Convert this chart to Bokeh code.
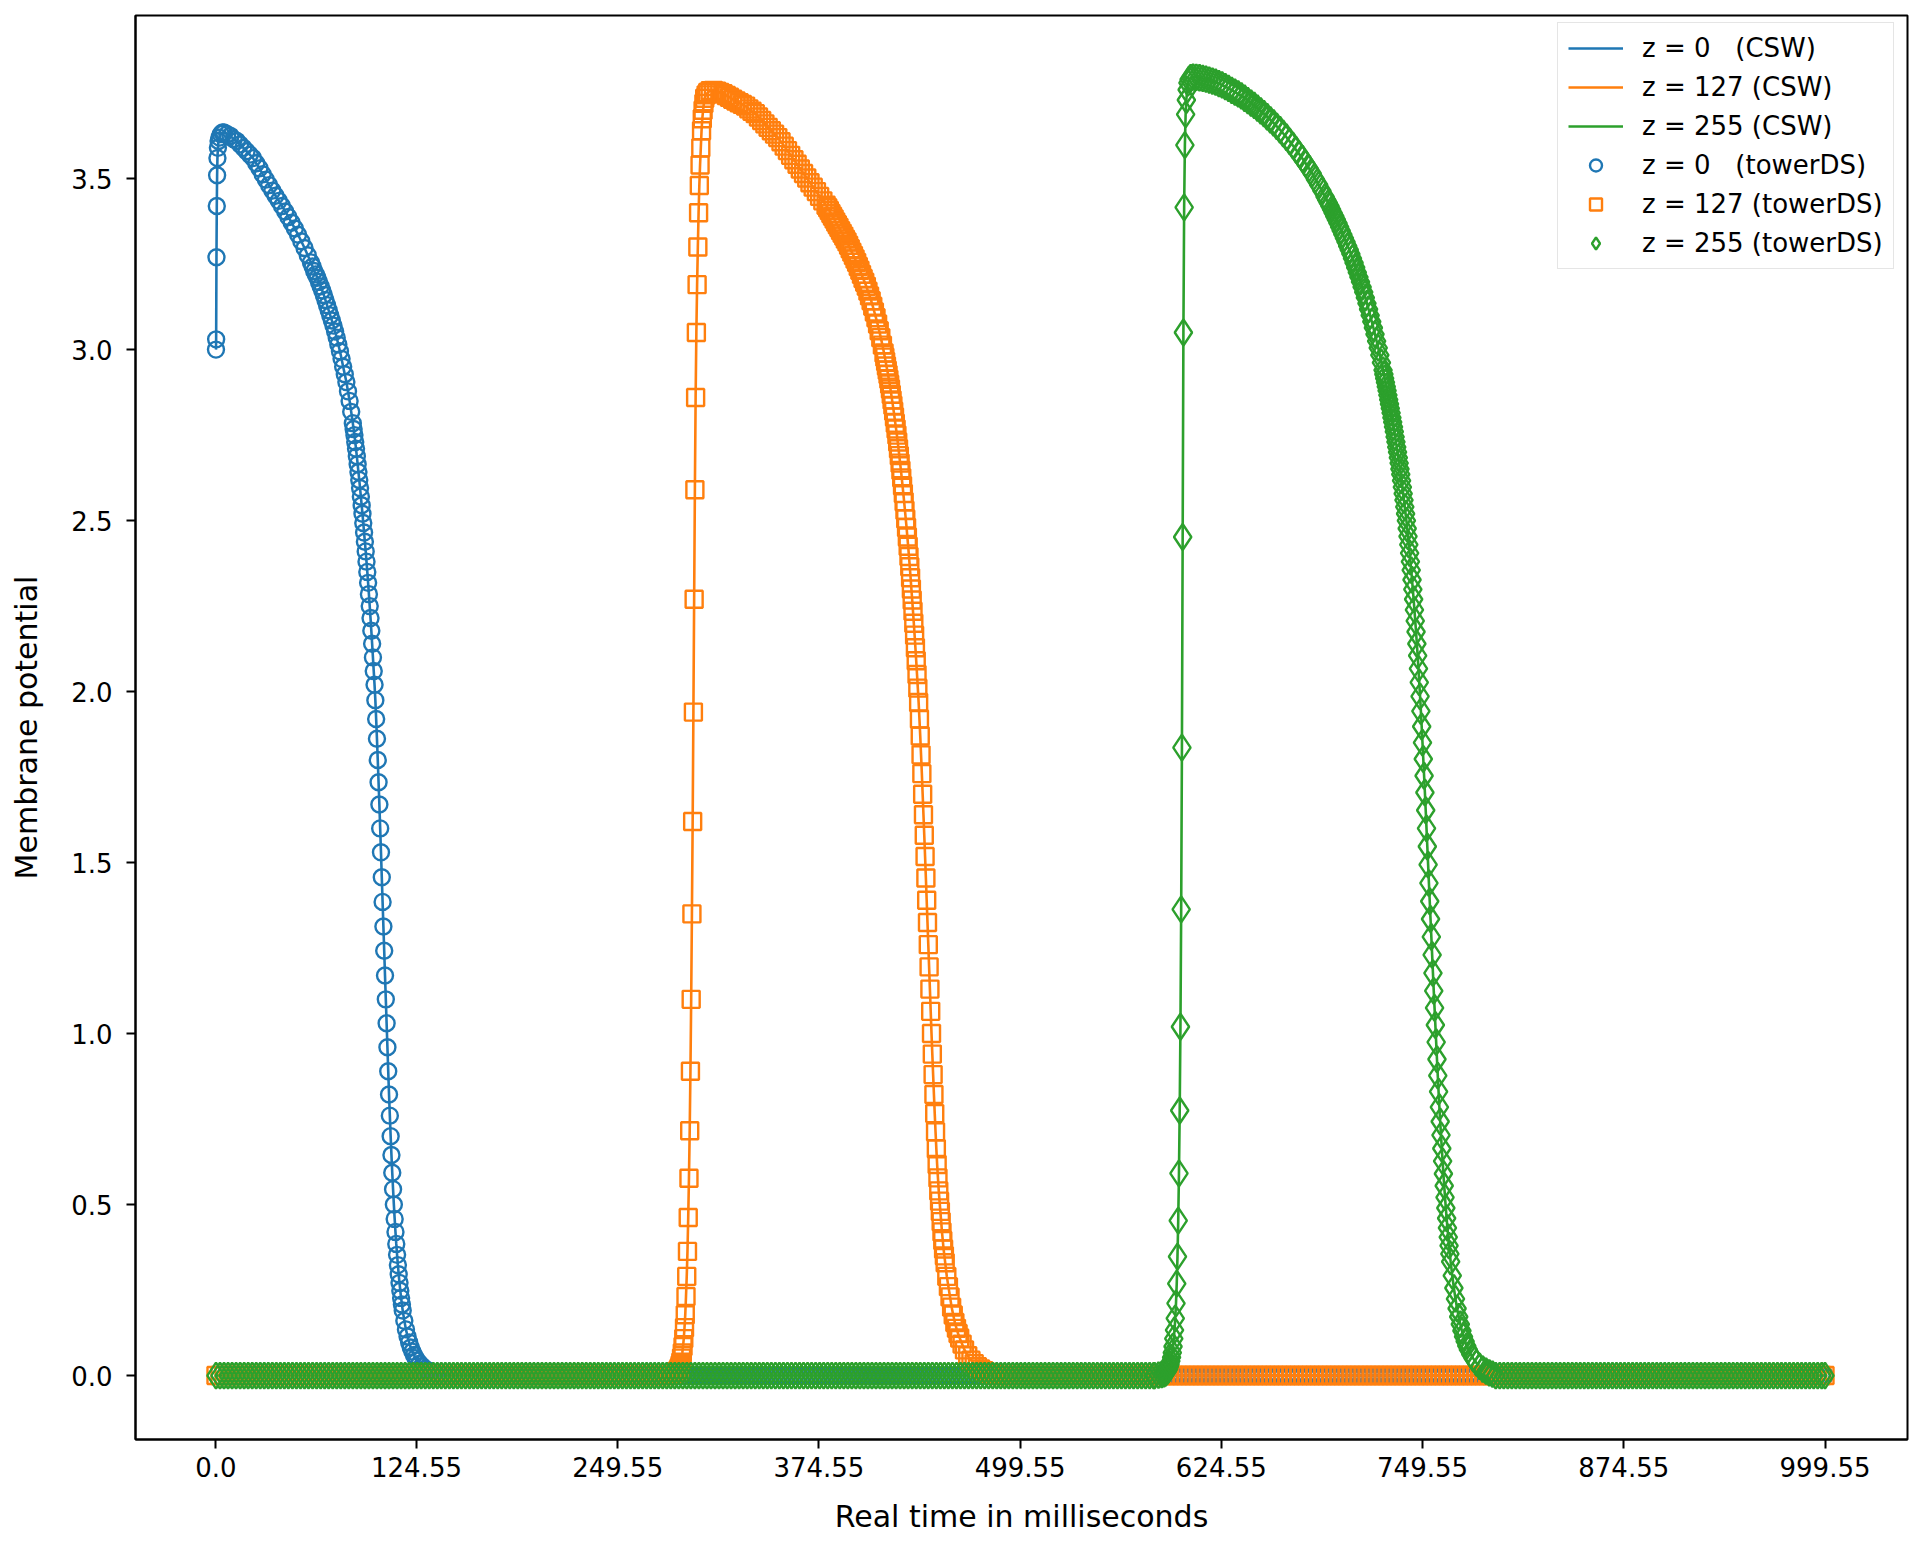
from bokeh.plotting import figure
from bokeh.models import Range1d, FixedTicker, Legend, LegendItem
from bokeh.embed import file_html
from bokeh.resources import INLINE

# ---------------- data ----------------
x_ticks = [0.0, 124.55, 249.55, 374.55, 499.55, 624.55, 749.55, 874.55, 999.55]
x_tick_labels = ["0.0", "124.55", "249.55", "374.55", "499.55", "624.55", "749.55", "874.55", "999.55"]
y_ticks = [0.0, 0.5, 1.0, 1.5, 2.0, 2.5, 3.0, 3.5]
y_tick_labels = ["0.0", "0.5", "1.0", "1.5", "2.0", "2.5", "3.0", "3.5"]

series_names = ["z = 0   (CSW)", "z = 127 (CSW)", "z = 255 (CSW)",
                "z = 0   (towerDS)", "z = 127 (towerDS)", "z = 255 (towerDS)"]
colors = ["#1f77b4", "#ff7f0e", "#2ca02c"]

# resting level (membrane potential 0.0) read at these sample times outside each pulse
REST_LEVEL = 0.0
rest_grid_ms = [
    0, 2.5, 5, 7.5, 10, 12.5, 15, 17.5, 20, 22.5, 25, 27.5, 30, 32.5, 35, 37.5, 40, 42.5, 45, 47.5,
    50, 52.5, 55, 57.5, 60, 62.5, 65, 67.5, 70, 72.5, 75, 77.5, 80, 82.5, 85, 87.5, 90, 92.5, 95, 97.5,
    100, 102.5, 105, 107.5, 110, 112.5, 115, 117.5, 120, 122.5, 125, 127.5, 130, 132.5, 135, 137.5, 140, 142.5, 145, 147.5,
    150, 152.5, 155, 157.5, 160, 162.5, 165, 167.5, 170, 172.5, 175, 177.5, 180, 182.5, 185, 187.5, 190, 192.5, 195, 197.5,
    200, 202.5, 205, 207.5, 210, 212.5, 215, 217.5, 220, 222.5, 225, 227.5, 230, 232.5, 235, 237.5, 240, 242.5, 245, 247.5,
    250, 252.5, 255, 257.5, 260, 262.5, 265, 267.5, 270, 272.5, 275, 277.5, 280, 282.5, 285, 287.5, 290, 292.5, 295, 297.5,
    300, 302.5, 305, 307.5, 310, 312.5, 315, 317.5, 320, 322.5, 325, 327.5, 330, 332.5, 335, 337.5, 340, 342.5, 345, 347.5,
    350, 352.5, 355, 357.5, 360, 362.5, 365, 367.5, 370, 372.5, 375, 377.5, 380, 382.5, 385, 387.5, 390, 392.5, 395, 397.5,
    400, 402.5, 405, 407.5, 410, 412.5, 415, 417.5, 420, 422.5, 425, 427.5, 430, 432.5, 435, 437.5, 440, 442.5, 445, 447.5,
    450, 452.5, 455, 457.5, 460, 462.5, 465, 467.5, 470, 472.5, 475, 477.5, 480, 482.5, 485, 487.5, 490, 492.5, 495, 497.5,
    500, 502.5, 505, 507.5, 510, 512.5, 515, 517.5, 520, 522.5, 525, 527.5, 530, 532.5, 535, 537.5, 540, 542.5, 545, 547.5,
    550, 552.5, 555, 557.5, 560, 562.5, 565, 567.5, 570, 572.5, 575, 577.5, 580, 582.5, 585, 587.5, 590, 592.5, 595, 597.5,
    600, 602.5, 605, 607.5, 610, 612.5, 615, 617.5, 620, 622.5, 625, 627.5, 630, 632.5, 635, 637.5, 640, 642.5, 645, 647.5,
    650, 652.5, 655, 657.5, 660, 662.5, 665, 667.5, 670, 672.5, 675, 677.5, 680, 682.5, 685, 687.5, 690, 692.5, 695, 697.5,
    700, 702.5, 705, 707.5, 710, 712.5, 715, 717.5, 720, 722.5, 725, 727.5, 730, 732.5, 735, 737.5, 740, 742.5, 745, 747.5,
    750, 752.5, 755, 757.5, 760, 762.5, 765, 767.5, 770, 772.5, 775, 777.5, 780, 782.5, 785, 787.5, 790, 792.5, 795, 797.5,
    800, 802.5, 805, 807.5, 810, 812.5, 815, 817.5, 820, 822.5, 825, 827.5, 830, 832.5, 835, 837.5, 840, 842.5, 845, 847.5,
    850, 852.5, 855, 857.5, 860, 862.5, 865, 867.5, 870, 872.5, 875, 877.5, 880, 882.5, 885, 887.5, 890, 892.5, 895, 897.5,
    900, 902.5, 905, 907.5, 910, 912.5, 915, 917.5, 920, 922.5, 925, 927.5, 930, 932.5, 935, 937.5, 940, 942.5, 945, 947.5,
    950, 952.5, 955, 957.5, 960, 962.5, 965, 967.5, 970, 972.5, 975, 977.5, 980, 982.5, 985, 987.5, 990, 992.5, 995, 997.5,
    999.55,
]

# z = 0 pulse: (time in ms, membrane potential)
blue_pulse = [
    (0.0, 3.00), (0.1, 3.03), (0.3, 3.27), (0.5, 3.42), (0.7, 3.51), (0.9, 3.56), (1.2, 3.59), (1.6, 3.61),
    (2.2, 3.62), (3.0, 3.63), (4.0, 3.635), (5, 3.635), (7, 3.63), (9, 3.625), (11, 3.615), (13, 3.61),
    (15, 3.60), (17, 3.59), (19, 3.58), (21, 3.57), (23, 3.56), (25, 3.545), (27, 3.53), (29, 3.513),
    (31, 3.497), (33, 3.481), (35, 3.465), (37, 3.45), (39, 3.435), (41, 3.42), (43, 3.404), (45, 3.388),
    (47, 3.371), (49, 3.354), (51, 3.336), (53, 3.317), (55, 3.297), (57, 3.276), (59, 3.255), (60, 3.243),
    (61, 3.23), (62, 3.22), (63, 3.21), (64, 3.198), (65, 3.185), (66, 3.173), (67, 3.16), (68, 3.145),
    (69, 3.13), (70, 3.115), (71, 3.10), (72, 3.085), (73, 3.07), (74, 3.053), (75, 3.035), (76, 3.015),
    (77, 2.995), (78, 2.973), (79, 2.95), (80, 2.928), (81, 2.905), (82, 2.878), (83, 2.85), (84, 2.818),
    (85, 2.785), (85.5, 2.768), (86, 2.75), (86.5, 2.73), (87, 2.71), (87.5, 2.688), (88, 2.665), (88.5, 2.642),
    (89, 2.619), (89.5, 2.595), (90, 2.57), (90.5, 2.545), (91, 2.52), (91.5, 2.493), (92, 2.465), (92.5, 2.438),
    (93, 2.41), (93.5, 2.38), (94, 2.35), (94.5, 2.318), (95, 2.285), (95.5, 2.25), (96, 2.215), (96.5, 2.178),
    (97, 2.14), (97.5, 2.10), (98, 2.06), (98.5, 2.02), (99, 1.975), (99.5, 1.92), (100, 1.862), (100.5, 1.80),
    (101, 1.735), (101.5, 1.67), (102, 1.60), (102.5, 1.53), (103, 1.457), (103.5, 1.385), (104, 1.313), (104.5, 1.242),
    (105, 1.17), (105.5, 1.10), (106, 1.03), (106.5, 0.96), (107, 0.89), (107.5, 0.822), (108, 0.76), (108.5, 0.70),
    (109, 0.645), (109.5, 0.593), (110, 0.545), (110.5, 0.50), (111, 0.458), (111.5, 0.42), (112, 0.385), (112.5, 0.353),
    (113, 0.323), (113.5, 0.296), (114, 0.271), (114.5, 0.248), (115, 0.227), (115.5, 0.208), (116, 0.19), (117, 0.16),
    (118, 0.135), (119, 0.114), (120, 0.097), (121, 0.082), (122, 0.07), (123, 0.06), (124, 0.051), (125, 0.044),
    (126.5, 0.035), (128, 0.028), (130, 0.02), (132, 0.014), (134, 0.01), (136, 0.006), (138, 0.003), (140, 0.0),
]

# z = 127 pulse
orange_pulse = [
    (281, 0.0), (283, 0.002), (284.5, 0.004), (285.5, 0.007), (286.4, 0.011), (286.9, 0.014), (287.38, 0.018),
    (287.84, 0.023), (288.3, 0.03), (288.76, 0.039), (289.22, 0.051), (289.68, 0.066), (290.14, 0.085),
    (290.6, 0.108), (291.06, 0.14), (291.52, 0.178), (291.98, 0.231), (292.44, 0.29), (292.9, 0.363),
    (293.36, 0.462), (293.82, 0.577), (294.28, 0.716), (294.74, 0.89), (295.2, 1.10), (295.66, 1.35),
    (296.12, 1.62), (296.58, 1.94), (297.04, 2.27), (297.5, 2.59), (297.96, 2.86), (298.42, 3.05),
    (298.88, 3.19), (299.34, 3.30), (299.8, 3.40), (300.26, 3.48), (300.72, 3.54), (301.18, 3.59),
    (301.64, 3.64), (302.1, 3.675), (302.6, 3.70), (303.1, 3.72), (303.6, 3.735), (304.5, 3.745),
    (305.5, 3.752), (307, 3.757),
    (309, 3.758), (311, 3.756), (313, 3.752), (315, 3.748), (317, 3.743), (319, 3.738), (321, 3.732), (323, 3.727),
    (325, 3.722), (327, 3.717), (329, 3.712), (331, 3.704), (333, 3.697), (335, 3.69), (337, 3.68), (339, 3.67),
    (341, 3.66), (343, 3.65), (345, 3.64), (347, 3.63), (349, 3.62), (351, 3.608), (353, 3.595), (355, 3.582),
    (357, 3.568), (359, 3.555), (361, 3.542), (363, 3.528), (365, 3.515), (367, 3.502), (369, 3.488), (371, 3.475),
    (373, 3.462), (375, 3.448), (377, 3.435), (379, 3.422),
    (380, 3.415), (381, 3.407), (382, 3.398), (383, 3.39), (384, 3.382), (385, 3.373), (386, 3.365), (387, 3.357),
    (388, 3.348), (389, 3.34), (390, 3.332), (391, 3.323), (392, 3.315), (393, 3.305), (394, 3.295), (395, 3.285),
    (396, 3.275), (397, 3.265), (398, 3.255), (399, 3.243), (400, 3.232), (401, 3.22), (402, 3.208), (403, 3.197),
    (404, 3.185), (405, 3.171), (406, 3.157), (407, 3.143), (408, 3.127), (409, 3.11), (410, 3.093), (411, 3.075),
    (412, 3.055), (413, 3.035), (414, 3.013), (415, 2.99),
    (415.5, 2.978), (416, 2.965), (416.5, 2.952), (417, 2.94), (417.5, 2.927), (418, 2.913), (418.5, 2.899), (419, 2.885),
    (419.5, 2.869), (420, 2.853), (420.5, 2.837), (421, 2.82), (421.5, 2.803), (422, 2.785), (422.5, 2.768), (423, 2.75),
    (423.5, 2.73), (424, 2.71), (424.5, 2.69), (425, 2.668), (425.5, 2.647), (426, 2.625), (426.5, 2.602), (427, 2.579),
    (427.5, 2.555), (428, 2.53), (428.5, 2.505), (429, 2.48), (429.5, 2.452), (430, 2.425), (430.5, 2.395), (431, 2.365),
    (431.5, 2.333), (432, 2.30), (432.5, 2.268), (433, 2.235), (433.5, 2.20), (434, 2.165), (434.5, 2.128), (435, 2.09),
    (435.5, 2.05), (436, 2.01), (436.5, 1.968), (437, 1.92), (437.5, 1.87), (438, 1.815), (438.5, 1.76), (439, 1.70),
    (439.5, 1.64), (440, 1.58), (440.5, 1.518), (441, 1.455), (441.5, 1.39), (442, 1.325), (442.5, 1.26), (443, 1.195),
    (443.5, 1.13), (444, 1.065), (444.5, 1.0), (445, 0.94), (445.5, 0.88), (446, 0.822), (446.5, 0.766), (447, 0.713),
    (447.5, 0.663), (448, 0.617), (448.5, 0.578), (449, 0.54), (449.5, 0.51), (450, 0.48), (450.5, 0.45), (451, 0.42),
    (451.5, 0.395), (452, 0.37), (452.5, 0.35), (453, 0.33), (454, 0.29), (455, 0.26), (456, 0.23), (457, 0.20),
    (458, 0.177), (459, 0.155), (460, 0.138), (461, 0.123), (462, 0.11), (463.5, 0.092), (465, 0.075), (467, 0.058),
    (469, 0.045), (471, 0.035), (473, 0.026), (475, 0.019), (477, 0.014), (479, 0.009), (481, 0.006), (483, 0.003),
    (485, 0.0),
]

# z = 255 pulse
green_pulse = [
    (583, 0.0), (585.5, 0.001), (587.5, 0.003), (589, 0.005), (590, 0.008), (590.8, 0.012), (591.3, 0.016),
    (591.78, 0.02), (592.24, 0.026), (592.7, 0.033), (593.16, 0.042), (593.62, 0.053), (594.08, 0.067),
    (594.54, 0.085), (595.0, 0.108), (595.46, 0.133), (595.92, 0.167), (596.38, 0.211), (596.84, 0.269),
    (597.3, 0.348), (597.76, 0.453), (598.22, 0.591), (598.68, 0.775), (599.14, 1.020), (599.6, 1.363),
    (600.06, 1.836), (600.52, 2.452), (600.98, 3.050), (601.44, 3.416), (601.9, 3.598), (602.36, 3.688),
    (602.82, 3.73), (603.3, 3.76), (603.8, 3.78), (604.5, 3.79), (605.5, 3.795), (607, 3.797),
    (609, 3.796), (611, 3.795), (613, 3.793), (615, 3.791), (617, 3.788), (619, 3.785), (621, 3.782), (623, 3.778),
    (625, 3.774), (627, 3.769), (629, 3.764), (631, 3.758), (633, 3.753), (635, 3.748), (637, 3.742), (639, 3.735),
    (641, 3.728), (643, 3.721), (645, 3.714), (647, 3.706), (649, 3.698), (651, 3.69), (653, 3.681), (655, 3.672),
    (657, 3.663), (659, 3.653), (661, 3.643), (663, 3.632), (665, 3.621), (667, 3.609), (669, 3.597), (671, 3.584),
    (673, 3.571), (675, 3.558), (677, 3.544), (679, 3.53), (681, 3.515), (683, 3.498), (685, 3.482), (687, 3.465),
    (689, 3.447),
    (690, 3.438), (691, 3.429), (692, 3.42), (693, 3.41), (694, 3.40), (695, 3.39), (696, 3.38), (697, 3.37),
    (698, 3.359), (699, 3.348), (700, 3.337), (701, 3.326), (702, 3.315), (703, 3.303), (704, 3.292), (705, 3.28),
    (706, 3.267), (707, 3.254), (708, 3.24), (709, 3.226), (710, 3.212), (711, 3.198), (712, 3.183), (713, 3.168),
    (714, 3.152), (715, 3.135), (716, 3.118), (717, 3.10), (718, 3.082), (719, 3.064), (720, 3.045), (721, 3.025),
    (722, 3.005), (723, 2.984), (724, 2.962), (725, 2.94),
    (725.5, 2.928), (726, 2.916), (726.5, 2.904), (727, 2.892), (727.5, 2.88), (728, 2.867), (728.5, 2.854), (729, 2.841),
    (729.5, 2.828), (730, 2.815), (730.5, 2.801), (731, 2.788), (731.5, 2.774), (732, 2.76), (732.5, 2.745), (733, 2.73),
    (733.5, 2.715), (734, 2.70), (734.5, 2.684), (735, 2.668), (735.5, 2.651), (736, 2.635), (736.5, 2.617), (737, 2.598),
    (737.5, 2.579), (738, 2.56), (738.5, 2.54), (739, 2.52), (739.5, 2.50), (740, 2.477), (740.5, 2.454), (741, 2.43),
    (741.5, 2.405), (742, 2.38), (742.5, 2.355), (743, 2.327), (743.5, 2.299), (744, 2.27), (744.5, 2.239), (745, 2.207),
    (745.5, 2.175), (746, 2.14), (746.5, 2.105), (747, 2.067), (747.5, 2.027), (748, 1.986), (748.5, 1.943), (749, 1.898),
    (749.5, 1.851), (750, 1.803), (750.5, 1.754), (751, 1.705), (751.5, 1.653), (752, 1.60), (752.5, 1.547), (753, 1.494),
    (753.5, 1.44), (754, 1.387), (754.5, 1.335), (755, 1.283), (755.5, 1.23), (756, 1.177), (756.5, 1.125), (757, 1.075),
    (757.5, 1.025), (758, 0.975), (758.5, 0.925), (759, 0.877), (759.5, 0.83), (760, 0.785), (760.5, 0.743), (761, 0.703),
    (761.5, 0.664), (762, 0.627), (762.5, 0.59), (763, 0.555), (763.5, 0.521), (764, 0.49), (764.5, 0.46), (765, 0.432),
    (765.5, 0.405), (766, 0.38), (766.5, 0.356), (767, 0.333), (768, 0.292), (769, 0.256), (770, 0.224), (771, 0.196),
    (772, 0.172), (773, 0.15), (774, 0.131), (775, 0.114), (776, 0.1), (777, 0.087), (778, 0.076), (779.5, 0.062),
    (781, 0.05), (783, 0.037), (785, 0.027), (787, 0.019), (789, 0.013), (791, 0.008), (793, 0.004), (795, 0.0),
]


def full_series(pulse):
    """Join the pulse readings with the resting-level readings outside the pulse."""
    lo, hi = pulse[0][0], pulse[-1][0]
    pts = [(t, REST_LEVEL) for t in rest_grid_ms if t < lo or t > hi] + list(pulse)
    pts.sort()
    return [a for a, _ in pts], [b for _, b in pts]


series = [full_series(blue_pulse), full_series(orange_pulse), full_series(green_pulse)]

# ---------------- figure ----------------
FONT = "DejaVu Sans"
p = figure(width=1915, height=1540, output_backend="svg", toolbar_location=None,
           x_range=Range1d(-50.0, 1050.8), y_range=Range1d(-0.187, 3.977),
           min_border_left=135, min_border_right=8, min_border_top=15, min_border_bottom=101)
p.background_fill_color = "white"
p.border_fill_color = "white"
p.grid.visible = False
p.outline_line_color = "black"
p.outline_line_width = 2

line_renderers = []
for (xs, ys), c in zip(series, colors):
    line_renderers.append(p.line(xs, ys, line_color=c, line_width=2.6))

marker_renderers = []
for (xs, ys), c, mk, sz in zip(series, colors, ["circle", "square", "diamond"], [16, 17, 26]):
    marker_renderers.append(p.scatter(xs, ys, marker=mk, size=sz, fill_color=None,
                                      line_color=c, line_width=2.4))

p.xaxis.ticker = FixedTicker(ticks=x_ticks)
p.xaxis.major_label_overrides = {t: l for t, l in zip(x_ticks, x_tick_labels)}
p.yaxis.ticker = FixedTicker(ticks=y_ticks)
p.yaxis.major_label_overrides = {t: l for t, l in zip(y_ticks, y_tick_labels)}
p.xaxis.axis_label = "Real time in milliseconds"
p.yaxis.axis_label = "Membrane potential"

for ax in (p.xaxis, p.yaxis):
    ax.axis_line_color = "black"
    ax.axis_line_width = 2
    ax.major_tick_line_color = "black"
    ax.major_tick_line_width = 2
    ax.major_tick_out = 9
    ax.major_tick_in = 0
    ax.minor_tick_line_color = None
    ax.major_label_text_font = FONT
    ax.major_label_text_font_size = "26px"
    ax.major_label_text_color = "black"
    ax.axis_label_text_font = FONT
    ax.axis_label_text_font_size = "30px"
    ax.axis_label_text_font_style = "normal"
    ax.axis_label_text_color = "black"

p.xaxis.major_label_standoff = 8
p.xaxis.axis_label_standoff = 19
p.yaxis.major_label_standoff = 14
p.yaxis.axis_label_standoff = 24

items = [LegendItem(label=series_names[i], renderers=[line_renderers[i]]) for i in range(3)]
items += [LegendItem(label=series_names[3 + i], renderers=[marker_renderers[i]]) for i in range(3)]
# legend box: bottom-left corner given in screen px from the plot frame's bottom-left corner
legend = Legend(items=items, location=(1422, 1170))
legend.label_text_font = FONT
legend.label_text_font_size = "26px"
legend.label_text_color = "black"
legend.glyph_width = 55
legend.glyph_height = 30
legend.label_height = 30
legend.label_standoff = 19
legend.spacing = 9
legend.padding = 10
legend.margin = 0
legend.border_line_color = "#cccccc"
legend.border_line_width = 1.5
legend.background_fill_alpha = 0.85
p.add_layout(legend)

open("out.html", "w").write(file_html(p, INLINE))
